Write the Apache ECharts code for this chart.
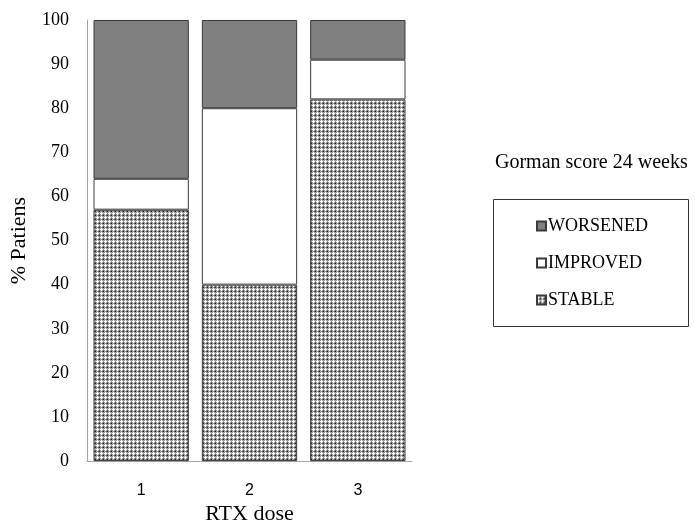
<!DOCTYPE html>
<html>
<head>
<meta charset="utf-8">
<script src="https://cdn.jsdelivr.net/npm/echarts@6/dist/echarts.min.js"></script>
<style>html,body{margin:0;padding:0;background:#fff;}#c{width:695px;height:530px;}</style>
</head>
<body>
<div id="c"></div>
<script>
var categories = ['1', '2', '3'];
var stable = [57, 40, 82];
var improved = [7, 40, 9];
var worsened = [36, 20, 9];
var yTicks = [0, 10, 20, 30, 40, 50, 60, 70, 80, 90, 100];

function makePattern() {
  var cv = document.createElement('canvas');
  cv.width = 4; cv.height = 4;
  var ctx = cv.getContext('2d');
  ctx.fillStyle = '#9a9a9a';
  ctx.fillRect(0, 0, 4, 4);
  ctx.fillStyle = '#ffffff';
  [[1,0],[0,1],[1,1],[2,1],[1,2]].forEach(function (p) { ctx.fillRect(p[0], p[1], 1, 1); });
  ctx.fillStyle = '#222222';
  [[3,3]].forEach(function (p) { ctx.fillRect(p[0], p[1], 1, 1); });
  ctx.fillStyle = '#666666';
  [[3,2],[2,3]].forEach(function (p) { ctx.fillRect(p[0], p[1], 1, 1); });
  return cv;
}
var pattern = { image: makePattern(), repeat: 'repeat' };

var serif = 'Liberation Serif';
var chart = echarts.init(document.getElementById('c'));
chart.setOption({
  animation: false,
  backgroundColor: '#fff',
  title: {
    text: 'Gorman score 24 weeks',
    left: 490, top: 148,
    textStyle: { fontFamily: serif, fontSize: 20, fontWeight: 'normal', color: '#000' }
  },
  legend: {
    data: ['WORSENED', 'IMPROVED', 'STABLE'],
    orient: 'vertical',
    left: 531, top: 212,
    icon: 'rect',
    itemWidth: 9, itemHeight: 9,
    itemGap: 19,
    textStyle: { fontFamily: serif, fontSize: 18, color: '#000', padding: [0, 0, 0, -3] }
  },
  graphic: [{
    type: 'rect',
    shape: { x: 493.5, y: 199.5, width: 195, height: 127 },
    style: { fill: 'none', stroke: '#333', lineWidth: 1 },
    silent: true
  }],
  grid: { left: 87, top: 20, width: 325, height: 443 },
  xAxis: {
    type: 'category',
    data: categories,
    name: 'RTX dose',
    nameLocation: 'middle',
    nameGap: 40,
    nameTextStyle: { fontFamily: serif, fontSize: 22, color: '#000' },
    axisLine: { lineStyle: { color: '#a6a6a6', width: 1 } },
    axisTick: { alignWithLabel: true, length: 5, lineStyle: { color: '#a6a6a6' } },
    axisLabel: { margin: 21, fontFamily: 'Liberation Sans', fontSize: 16, color: '#000' }
  },
  yAxis: {
    type: 'value',
    min: 0, max: 100, interval: 10,
    name: '% Patiens',
    nameLocation: 'middle',
    nameGap: 57,
    nameTextStyle: { fontFamily: serif, fontSize: 22, color: '#000' },
    axisLine: { show: true, lineStyle: { color: '#a6a6a6', width: 1 } },
    axisTick: { show: false },
    splitLine: { show: false },
    axisLabel: {
      margin: 18, fontFamily: serif, fontSize: 18, color: '#000',
      formatter: function (v) { return yTicks.indexOf(v) >= 0 ? String(v) : ''; }
    }
  },
  series: [
    {
      name: 'STABLE', type: 'bar', stack: 'a', data: stable,
      barCategoryGap: '12%',
      itemStyle: { color: pattern, borderColor: '#3a3a3a', borderWidth: 1 }
    },
    {
      name: 'IMPROVED', type: 'bar', stack: 'a', data: improved,
      itemStyle: { color: '#ffffff', borderColor: '#3a3a3a', borderWidth: 1 }
    },
    {
      name: 'WORSENED', type: 'bar', stack: 'a', data: worsened,
      itemStyle: { color: '#808080', borderColor: '#3a3a3a', borderWidth: 1 }
    }
  ]
});
</script>
</body>
</html>
